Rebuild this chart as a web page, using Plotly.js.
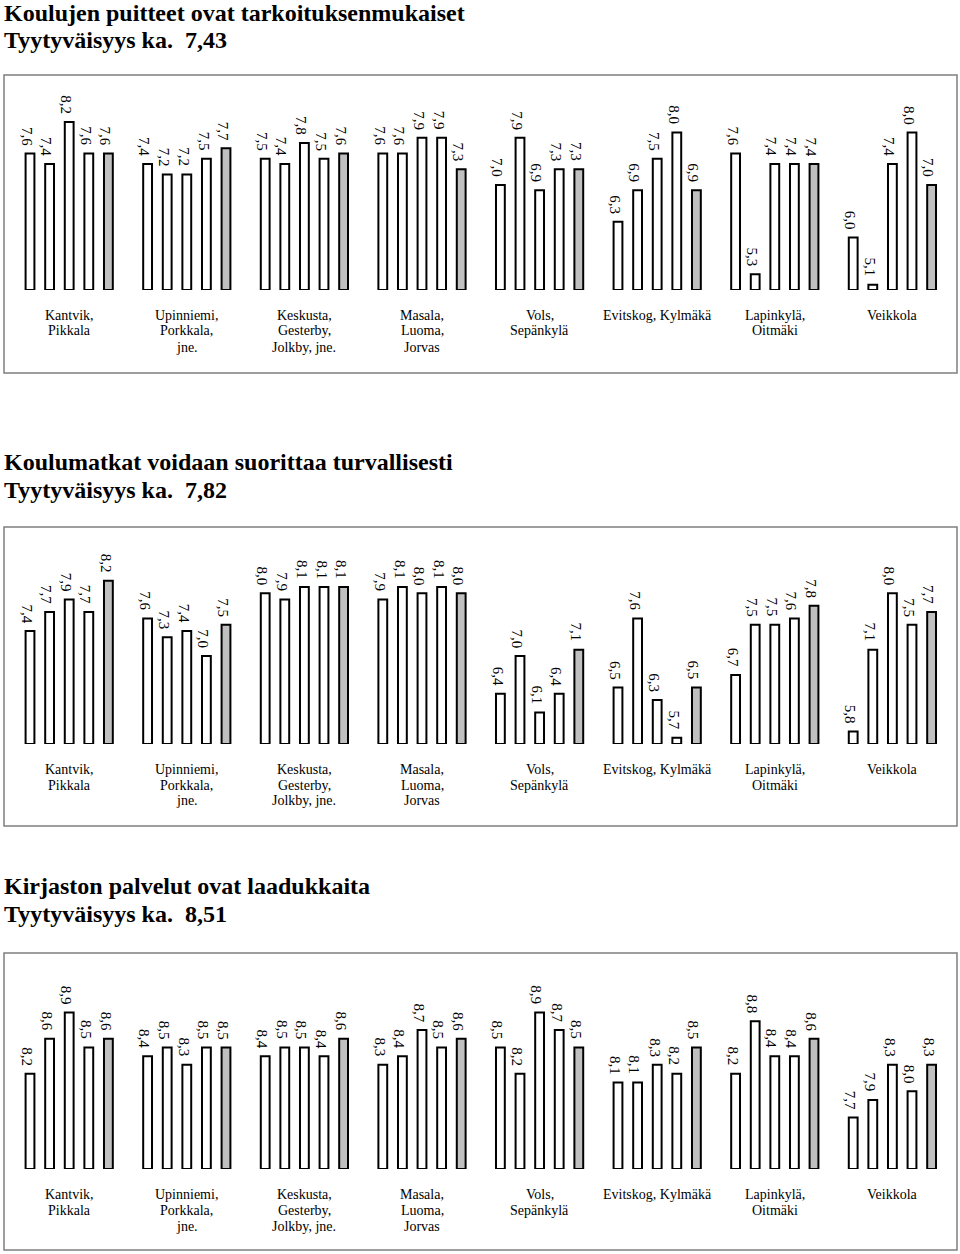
<!DOCTYPE html>
<html>
<head>
<meta charset="utf-8">
<script src="https://cdn.plot.ly/plotly-3.0.1.min.js"></script>
<style>
  html, body { margin: 0; padding: 0; background: #ffffff; }
  #chart { width: 960px; height: 1254px; }
</style>
</head>
<body>
<div id="chart"></div>
<script>
// ---------- data ----------
const categories = [
  "Kantvik,\nPikkala",
  "Upinniemi,\nPorkkala,\njne.",
  "Keskusta,\nGesterby,\nJolkby, jne.",
  "Masala,\nLuoma,\nJorvas",
  "Vols,\nSepänkylä",
  "Evitskog, Kylmäkä",
  "Lapinkylä,\nOitmäki",
  "Veikkola"
];

const titles1 = ["Koulujen puitteet ovat tarkoituksenmukaiset", "Tyytyväisyys ka.\u00a0 7,43"];
const titles2 = ["Koulumatkat voidaan suorittaa turvallisesti", "Tyytyväisyys ka.\u00a0 7,82"];
const titles3 = ["Kirjaston palvelut ovat laadukkaita", "Tyytyväisyys ka.\u00a0 8,51"];

// five bars per area (the fifth one is the grey bar)
const puitteet = [
  7.6, 7.4, 8.2, 7.6, 7.6,
  7.4, 7.2, 7.2, 7.5, 7.7,
  7.5, 7.4, 7.8, 7.5, 7.6,
  7.6, 7.6, 7.9, 7.9, 7.3,
  7.0, 7.9, 6.9, 7.3, 7.3,
  6.3, 6.9, 7.5, 8.0, 6.9,
  7.6, 5.3, 7.4, 7.4, 7.4,
  6.0, 5.1, 7.4, 8.0, 7.0
];
const koulumatkat = [
  7.4, 7.7, 7.9, 7.7, 8.2,
  7.6, 7.3, 7.4, 7.0, 7.5,
  8.0, 7.9, 8.1, 8.1, 8.1,
  7.9, 8.1, 8.0, 8.1, 8.0,
  6.4, 7.0, 6.1, 6.4, 7.1,
  6.5, 7.6, 6.3, 5.7, 6.5,
  6.7, 7.5, 7.5, 7.6, 7.8,
  5.8, 7.1, 8.0, 7.5, 7.7
];
const kirjasto = [
  8.2, 8.6, 8.9, 8.5, 8.6,
  8.4, 8.5, 8.3, 8.5, 8.5,
  8.4, 8.5, 8.5, 8.4, 8.6,
  8.3, 8.4, 8.7, 8.5, 8.6,
  8.5, 8.2, 8.9, 8.7, 8.5,
  8.1, 8.1, 8.3, 8.2, 8.5,
  8.2, 8.8, 8.4, 8.4, 8.6,
  7.7, 7.9, 8.3, 8.0, 8.3
];

// ---------- layout helpers ----------
const W = 960, H = 1254;
const FONT = "Liberation Serif, Times New Roman, serif";
const perGroup = 5;
const groupStep = 6;
const pxPerSlot = 19.6, firstSlotPx = 30;
const xRange = [-firstSlotPx / pxPerSlot, (W - firstSlotPx) / pxPerSlot];
const py = p => 1 - p / H;
const px = p => p / W;

// panel geometry: baseline pixel, top pixel of box, base value, px per unit
const panels = [
  {vals: puitteet,    titles: titles1, titleY: [13, 40],   base: 5.0,  basePx: 290,  topPx: 75,  bottomPx: 373,  scale: 52.5},
  {vals: koulumatkat, titles: titles2, titleY: [462, 490], base: 5.6,  basePx: 744,  topPx: 527, bottomPx: 826,  scale: 62.8},
  {vals: kirjasto,    titles: titles3, titleY: [886, 914], base: 7.11, basePx: 1169, topPx: 953, bottomPx: 1250, scale: 87.5}
];

const traces = [];
const layout = {
  width: W, height: H,
  margin: {l: 0, r: 0, t: 0, b: 0},
  paper_bgcolor: "#ffffff",
  plot_bgcolor: "rgba(0,0,0,0)",
  showlegend: false,
  font: {family: FONT, color: "#000000"},
  bargap: 0,
  annotations: [],
  shapes: []
};

panels.forEach((p, k) => {
  const suf = k === 0 ? "" : String(k + 1);
  const xs = p.vals.map((v, i) => Math.floor(i / perGroup) * groupStep + (i % perGroup));
  traces.push({
    type: "bar",
    x: xs,
    y: p.vals.map(v => v - p.base),
    base: p.base,
    width: 0.45,
    xaxis: "x" + suf,
    yaxis: "y" + suf,
    marker: {
      color: p.vals.map((v, i) => (i % perGroup === perGroup - 1) ? "#c0c0c0" : "#ffffff"),
      line: {color: "#000000", width: 2}
    },
    cliponaxis: false,
    hoverinfo: "skip"
  });

  // value labels (rotated, reading top to bottom)
  p.vals.forEach((v, i) => {
    layout.annotations.push({
      text: v.toFixed(1).replace(".", ","),
      xref: "x" + suf, yref: "y" + suf,
      x: xs[i], y: v,
      xanchor: "center", yanchor: "bottom",
      textangle: 90, xshift: -3, yshift: 6,
      showarrow: false,
      font: {family: FONT, size: 15, color: "#000000"}
    });
  });

  layout["xaxis" + suf] = {
    domain: [0, 1], range: xRange, anchor: "y" + suf,
    showgrid: false, zeroline: false, showline: false, showticklabels: false, ticks: ""
  };
  layout["yaxis" + suf] = {
    domain: [py(p.basePx), py(p.topPx)],
    range: [p.base, p.base + (p.basePx - p.topPx) / p.scale],
    anchor: "x" + suf,
    showgrid: false, zeroline: false, showline: false, showticklabels: false, ticks: ""
  };

  // frame
  layout.shapes.push({
    type: "rect", xref: "paper", yref: "paper",
    x0: px(4), x1: px(957), y0: py(p.bottomPx), y1: py(p.topPx),
    line: {color: "#7f7f7f", width: 1.5}, fillcolor: "rgba(0,0,0,0)"
  });

  // titles
  p.titles.forEach((t, j) => {
    layout.annotations.push({
      text: "<b>" + t + "</b>", xref: "paper", yref: "paper",
      x: px(2), y: py(p.titleY[j]), xanchor: "left", yanchor: "middle",
      showarrow: false, font: {family: FONT, size: 24, color: "#000000"}
    });
  });

  // category labels
  categories.forEach((c, g) => {
    c.split("\n").forEach((line, j) => {
      layout.annotations.push({
        text: line, xref: "x" + suf, yref: "paper",
        x: g * groupStep + 2, y: py(p.basePx + 25 + j * 16),
        xanchor: "center", yanchor: "middle",
        showarrow: false, font: {family: FONT, size: 14, color: "#000000"}
      });
    });
  });
});

Plotly.newPlot("chart", traces, layout, {staticPlot: true, displayModeBar: false});
</script>
</body>
</html>
